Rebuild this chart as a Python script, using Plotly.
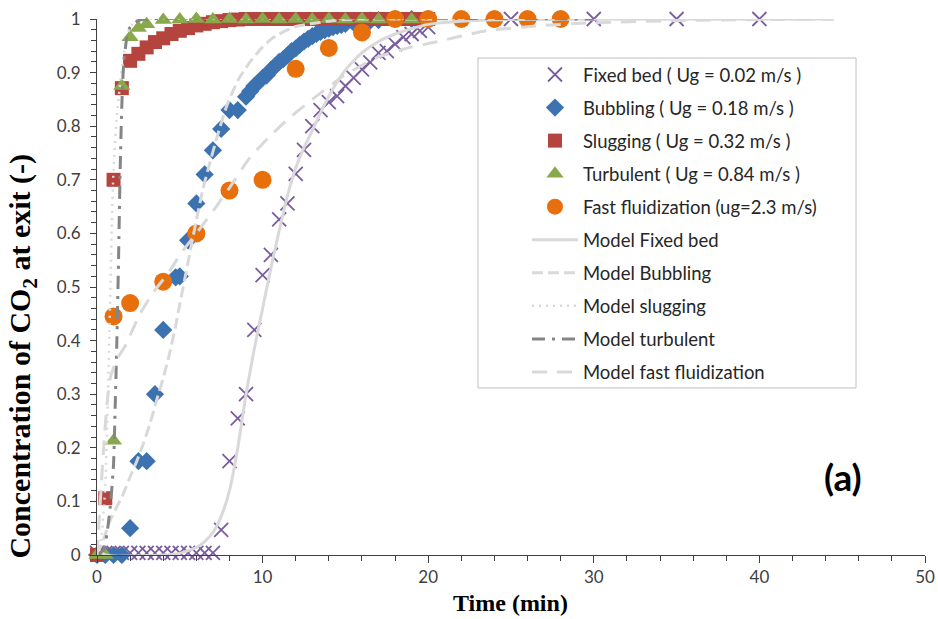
import plotly.graph_objects as go

# ---- measured breakthrough data (time in min, normalised CO2 concentration) ----
fixed_time = [0, 0.25, 0.5, 0.75, 1, 1.25, 1.5, 1.75, 2, 2.25, 2.5, 2.75, 3, 3.25, 3.5,
              3.75, 4, 4.25, 4.5, 4.75, 5, 5.25, 5.5, 5.75, 6, 6.25, 6.5, 6.75, 7, 7.25,
              7.5, 8, 8.5, 9, 9.5, 10, 10.5, 11, 11.5, 12, 12.5, 13, 13.5, 14, 14.5, 15,
              15.5, 16, 16.5, 17, 17.5, 18, 18.5, 19, 19.5, 20, 25, 30, 35, 40]
fixed_conc = [0.004, -0.008, 0.004, -0.008, 0.004, -0.008, 0.004, -0.008, 0.004, -0.008,
              0.004, -0.008, 0.004, -0.008, 0.004, -0.008, 0.004, -0.008, 0.004, -0.008,
              0.004, -0.008, 0.004, -0.008, 0.004, -0.008, 0.004, -0.008, 0.004, -0.008,
              0.047, 0.175, 0.255, 0.30, 0.42, 0.522, 0.56, 0.626, 0.656, 0.711, 0.756, 0.80,
              0.83, 0.845, 0.856, 0.875, 0.89, 0.906, 0.919, 0.937, 0.94, 0.953, 0.966, 0.972,
              0.978, 0.985, 1.0, 1.0, 1.0, 1.0]

bubbling_time = [0, 0.5, 1, 1.5, 2, 2.5, 3, 3.5, 4, 4.75, 5, 5.5, 6, 6.5, 7, 7.5, 8, 8.5,
                 9, 9.25, 9.5, 9.75, 10, 10.25, 10.5, 10.75, 11, 11.25, 11.5, 11.75, 12,
                 12.25, 12.5, 12.75, 13, 13.25, 13.5, 13.75, 14, 14.25, 14.5, 14.75, 15,
                 15.5, 16, 16.5, 17, 18, 19, 20]
bubbling_conc = [0, 0, 0, 0, 0.05, 0.175, 0.175, 0.30, 0.42, 0.518, 0.52, 0.587, 0.656,
                 0.71, 0.755, 0.795, 0.83, 0.83, 0.855, 0.865, 0.875, 0.882, 0.89, 0.895,
                 0.905, 0.912, 0.92, 0.925, 0.932, 0.94, 0.945, 0.952, 0.958, 0.963, 0.968,
                 0.972, 0.976, 0.979, 0.982, 0.985, 0.987, 0.989, 0.991, 0.993, 0.995,
                 0.997, 0.998, 1.0, 1.0, 1.0]

slugging_time = [0, 0.5, 1, 1.5, 2, 2.5, 3, 3.5, 4, 4.5, 5, 5.5, 6, 6.5, 7, 7.5, 8, 8.5,
                 9, 9.5, 10, 10.5, 11, 11.5, 12, 12.5, 13, 13.5, 14, 14.5, 15, 15.5, 16,
                 16.5, 17, 17.5, 18, 18.5, 19, 19.5, 20]
slugging_conc = [0, 0.106, 0.70, 0.871, 0.922, 0.935, 0.947, 0.957, 0.964, 0.972, 0.978,
                 0.983, 0.988, 0.991, 0.994, 0.996, 0.998, 0.999, 1.0, 1.0, 1.0, 1.0, 1.0,
                 1.0, 1.0, 1.0, 1.0, 1.0, 1.0, 1.0, 1.0, 1.0, 1.0, 1.0, 1.0, 1.0, 1.0, 1.0,
                 1.0, 1.0, 1.0]

turbulent_time = [0, 0.5, 1, 1.5, 2, 2.5, 3, 3.5, 4, 4.5, 5, 5.5, 6, 6.5, 7, 7.5, 8, 8.5,
                  9, 9.5, 10, 10.5, 11, 11.5, 12, 12.5, 13, 13.5, 14, 14.5, 15, 15.5, 16,
                  16.5, 17, 17.5, 18, 18.5, 19, 19.5, 20]
turbulent_conc = [0, 0, 0.213, 0.875, 0.966, 0.983, 0.99, 1.002, 0.998, 1.003, 0.999, 1.002,
                  1.0, 1.003, 0.999, 1.002, 1.0, 1.003, 0.999, 1.002, 1.0, 1.003, 0.999,
                  1.002, 1.0, 1.003, 0.999, 1.002, 1.0, 1.003, 0.999, 1.002, 1.0, 1.003,
                  0.999, 1.002, 1.0, 1.003, 0.999, 1.002, 1.0]

fast_time = [1, 2, 4, 6, 8, 10, 12, 14, 16, 18, 20, 22, 24, 26, 28]
fast_conc = [0.445, 0.47, 0.51, 0.60, 0.68, 0.70, 0.907, 0.946, 0.975, 1.0, 1.0, 1.0, 1.0,
             1.0, 1.0]

# ---- model predictions ----
model_fixed_time = [0, 0.5, 1, 2, 3, 4, 5, 6, 6.5, 7, 7.5, 8, 8.5, 9, 9.5, 10, 10.5, 11,
                    11.5, 12, 12.5, 13, 13.5, 14, 15, 16, 17, 18, 19, 20, 22, 25, 30, 44.5]
model_fixed_conc = [0.012, 0.0, -0.002, -0.002, -0.001, 0.0, 0.003, 0.014, 0.025, 0.042,
                    0.072, 0.12, 0.2, 0.3, 0.385, 0.46, 0.535, 0.605, 0.67, 0.722, 0.76,
                    0.792, 0.825, 0.856, 0.905, 0.937, 0.958, 0.972, 0.982, 0.99, 0.996,
                    0.999, 1.0, 1.0]

model_bubbling_time = [0, 0.4, 0.8, 1.2, 1.6, 2.0, 2.4, 2.8, 3.2, 3.6, 4.0, 4.4, 4.75, 5.0,
                       5.3, 5.7, 6.0, 6.4, 6.8, 7.3, 7.8, 8.5, 9.2, 10.0, 10.5, 11.0, 11.9,
                       12.9, 14.0, 15.0, 16.0, 20.0, 44.5]
model_bubbling_conc = [0, 0.03, 0.065, 0.09, 0.115, 0.146, 0.175, 0.208, 0.245, 0.289,
                       0.33, 0.378, 0.428, 0.468, 0.515, 0.578, 0.625, 0.683, 0.73, 0.785,
                       0.835, 0.885, 0.918, 0.948, 0.962, 0.972, 0.985, 0.991, 0.996, 0.999,
                       1.0, 1.0, 1.0]

model_slugging_time = [0, 0.25, 0.5, 0.7, 0.9, 1.0, 1.2, 1.4, 1.6, 1.8, 2.0, 2.4, 3.0, 30]
model_slugging_conc = [0, 0.03, 0.13, 0.35, 0.62, 0.72, 0.82, 0.88, 0.93, 0.965, 0.985,
                       0.998, 1.0, 1.0]

model_turbulent_time = [0, 0.4, 0.6, 0.8, 1.0, 1.1, 1.2, 1.3, 1.4, 1.5, 1.6, 1.8, 2.0, 2.5,
                        3.0, 30]
model_turbulent_conc = [0, 0.01, 0.04, 0.09, 0.17, 0.28, 0.40, 0.55, 0.72, 0.84, 0.91,
                        0.965, 0.985, 0.997, 1.0, 1.0]

model_fast_time = [0, 0.2, 0.4, 0.6, 0.8, 1.2, 1.7, 2.6, 3.4, 4.4, 5.0, 6.0, 7.2, 8.0, 9.2,
                   10.4, 11.6, 13.0, 14.9, 16.9, 18.9, 20.3, 23.5, 27, 30, 35, 40, 44.5]
model_fast_conc = [0, 0.1, 0.2, 0.28, 0.33, 0.365, 0.39, 0.45, 0.49, 0.53, 0.56, 0.60,
                   0.65, 0.685, 0.74, 0.78, 0.815, 0.85, 0.894, 0.928, 0.947, 0.956, 0.978,
                   0.988, 0.993, 0.997, 0.999, 1.0]

LEGEND_FONT = dict(family="Lato, 'Open Sans', sans-serif", size=18.5, color="#262626")
LIGHT = "#D9D9D9"
SERIF = "'Liberation Serif', 'Times New Roman', serif"

fig = go.Figure()


def add_points(name, t, c, symbol, color, size, line=None):
    marker = dict(symbol=symbol, color=color, size=size)
    if line:
        marker["line"] = line
    fig.add_trace(go.Scatter(x=t, y=c, mode="markers", name=name, marker=marker,
                             cliponaxis=False, legendgroup=name))


def add_model(name, t, c, color, dash, width=3):
    fig.add_trace(go.Scatter(x=t, y=c, mode="lines", name=name,
                             line=dict(color=color, width=width, dash=dash,
                                       shape="spline", smoothing=0.6),
                             legendgroup=name))


add_points("Fixed bed ( Ug = 0.02 m/s )", fixed_time, fixed_conc, "x-thin", "#7B5C9E", 14,
           line=dict(color="#7B5C9E", width=1.8))
add_points("Bubbling ( Ug = 0.18 m/s )", bubbling_time, bubbling_conc, "diamond", "#3D72B0", 14)
add_points("Slugging ( Ug = 0.32 m/s )", slugging_time, slugging_conc, "square", "#B5443F", 14)
add_points("Turbulent ( Ug = 0.84 m/s )", turbulent_time, turbulent_conc, "triangle-up",
           "#87A94B", 15)
add_points("Fast fluidization (ug=2.3 m/s)", fast_time, fast_conc, "circle", "#E8700C", 18)

add_model("Model Fixed bed", model_fixed_time, model_fixed_conc, LIGHT, "solid")
add_model("Model Bubbling", model_bubbling_time, model_bubbling_conc, LIGHT, "11px,5px")
add_model("Model slugging", model_slugging_time, model_slugging_conc, LIGHT, "2px,5px", 2.5)
add_model("Model turbulent", model_turbulent_time, model_turbulent_conc, "#858585",
          "13px,7px,3px,7px")
add_model("Model fast fluidization", model_fast_time, model_fast_conc, LIGHT, "15px,10px")

tick_font = dict(family="Lato, 'Open Sans', sans-serif", size=17, color="#404040")
axis_common = dict(showline=True, linecolor="#404040", linewidth=1, showgrid=False,
                   zeroline=False, ticks="outside", tickcolor="#404040", tickfont=tick_font,
                   mirror=False, automargin=False)

fig.update_xaxes(range=[0, 50], dtick=10, tick0=0, ticklen=7,
                 minor=dict(dtick=2, ticks="outside", ticklen=5, tickcolor="#404040"),
                 **axis_common)
fig.update_yaxes(range=[0, 1], dtick=0.1, tick0=0, ticklen=6, ticklabelstandoff=6,
                 minor=dict(dtick=0.02, ticks="outside", ticklen=5, tickcolor="#404040"),
                 **axis_common)

fig.update_layout(
    width=938, height=619,
    margin=dict(l=97, r=13, t=19, b=64, autoexpand=False),
    plot_bgcolor="white", paper_bgcolor="white",
    showlegend=True,
    legend=dict(x=0.5193, y=0.9310, xanchor="left", yanchor="top", font=LEGEND_FONT,
                bgcolor="rgba(0,0,0,0)", borderwidth=0, traceorder="grouped",
                tracegroupgap=6, itemwidth=46),
    shapes=[dict(type="rect", xref="paper", yref="paper", x0=0.4601, x1=0.9167,
                 y0=0.3116, y1=0.9272, line=dict(color="#BFBFBF", width=1),
                 fillcolor="rgba(0,0,0,0)", layer="below")],
    annotations=[
        dict(text="<b>Concentration of CO<sub>2</sub> at exit (-)</b>", textangle=-90,
             xref="paper", yref="paper", x=-0.0906, y=0.372, showarrow=False,
             font=dict(family=SERIF, size=30, color="black"),
             xanchor="center", yanchor="middle"),
        dict(text="<b>Time (min)</b>", xref="paper", yref="paper", x=0.4988, y=-0.0896,
             showarrow=False, xanchor="center", yanchor="middle",
             font=dict(family=SERIF, size=24, color="black")),
        dict(text="<b>(a)</b>", xref="paper", yref="paper", x=0.901, y=0.147,
             showarrow=False, xanchor="center", yanchor="middle",
             font=dict(family="Lato, 'Open Sans', sans-serif", size=37, color="black")),
    ],
)

fig.write_html("out.html")
